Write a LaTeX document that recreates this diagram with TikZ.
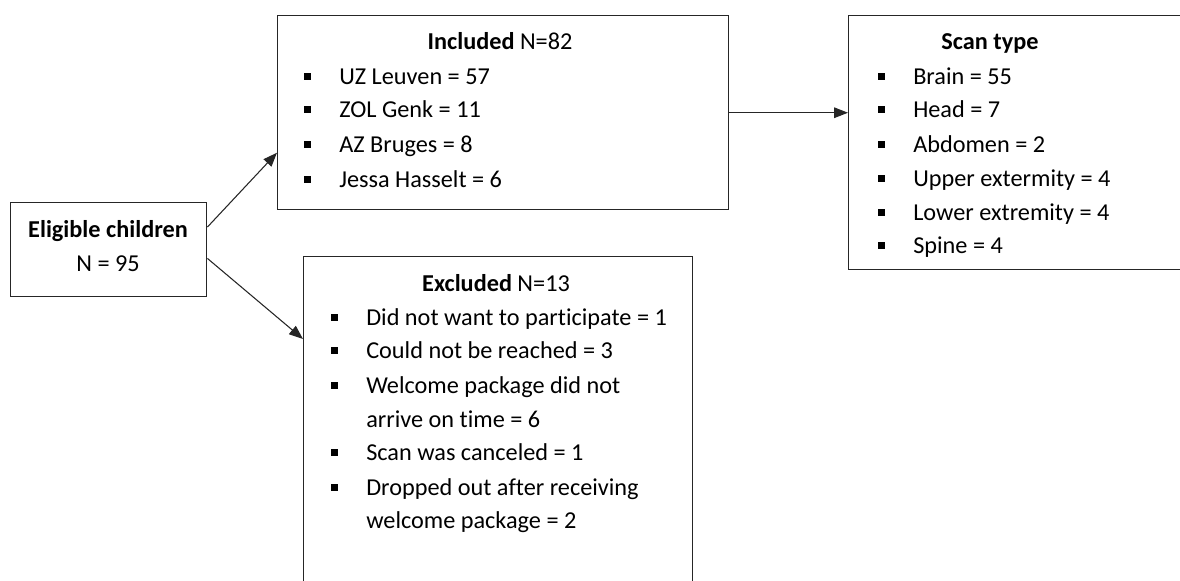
\documentclass[tikz,border=0pt]{standalone}
\usepackage{fontspec}
\setmainfont[Ligatures=NoCommon]{Carlito}
\usetikzlibrary{arrows.meta}
\newcommand\bitem[4]{\node[bul] (#1b) at ({#2-31.5},{#3-8}) {};\node[txt] (#1) at (#2,#3) {#4};}
\begin{document}
\begin{tikzpicture}[x=0.75pt,y=-0.75pt,
  box/.style={draw=black!85, line width=1.1pt, inner sep=0pt, anchor=north west},
  txt/.style={font=\fontsize{18.2}{22}\selectfont, inner sep=0pt, anchor=base west},
  ttl/.style={font=\fontsize{18.2}{22}\selectfont, inner sep=0pt, anchor=base},
  bul/.style={fill=black, inner sep=0pt, minimum size=5.2pt},
  arr/.style={draw=black!85, line width=0.8pt, -{Triangle[length=10.5pt,width=8pt]}}]
\useasboundingbox (0,0) rectangle (1180,581);
\clip (0,0) rectangle (1180,581);
% boxes
\node[box, minimum width=147pt, minimum height=70.5pt] (elig) at (10,202) {};
\node[box, minimum width=338.25pt, minimum height=145.5pt] (incl) at (277,15) {};
\node[box, minimum width=264pt, minimum height=190.5pt] (scan) at (848,15) {};
\node[box, minimum width=291.75pt, minimum height=265.5pt] (excl) at (303,256) {};
% eligible
\node[ttl] (eligt) at (108,237.5) {\bfseries Eligible children};
\node[ttl] (eligN) at (108,271.5) {N = 95};
% included
\node[ttl] (inclt) at (500,49.5) {\textbf{Included} N=82};
\bitem{i1}{339}{84.5}{UZ Leuven = 57}
\bitem{i2}{339}{117.5}{ZOL Genk = 11}
\bitem{i3}{339}{152.5}{AZ Bruges = 8}
\bitem{i4}{339}{187.5}{Jessa Hasselt = 6}
% scan type
\node[ttl] (scant) at (990,50) {\textbf{Scan type}};
\bitem{s1}{913}{84.5}{Brain = 55}
\bitem{s2}{913}{117.5}{Head = 7}
\bitem{s3}{913}{152.5}{Abdomen = 2}
\bitem{s4}{913}{186.5}{Upper extermity = 4}
\bitem{s5}{913}{220.5}{Lower extremity = 4}
\bitem{s6}{913}{253.5}{Spine = 4}
% excluded
\node[ttl] (exclt) at (496,291.5) {\textbf{Excluded} N=13};
\bitem{e1}{366}{325.5}{Did not want to participate = 1}
\bitem{e2}{366}{358.5}{Could not be reached = 3}
\bitem{e3}{366}{393.5}{Welcome package did not}
\node[txt] (e3b2) at (366,427.5) {arrive on time = 6};
\bitem{e4}{366}{460.5}{Scan was canceled = 1}
\bitem{e5}{366}{495.5}{Dropped out after receiving}
\node[txt] (e5b2) at (366,528.5) {welcome package = 2};
% connectors
\draw[arr] ([yshift=-18.75pt]elig.north east) -- ([yshift=-30pt]incl.west);
\draw[arr] ([yshift=29.25pt]elig.south east) -- ([yshift=-62.25pt]excl.north west);
\draw[arr] (incl.east) -- (incl.east -| scan.west);
\end{tikzpicture}
\end{document}
